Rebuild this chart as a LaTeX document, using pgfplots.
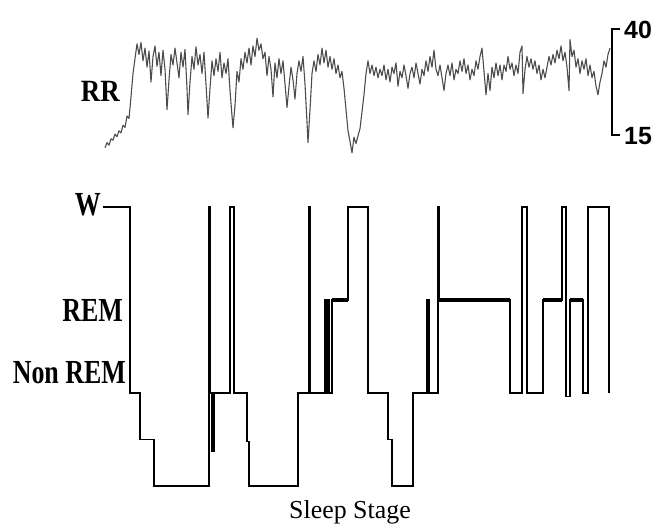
\documentclass[border=0pt]{standalone}
\usepackage{pgfplots}
\pgfplotsset{compat=1.18}
\usepackage{fontspec}
\setmainfont{Liberation Serif}
\newfontfamily\arial{Liberation Sans}

\begin{document}
\begin{tikzpicture}
\path[use as bounding box] (0bp,0bp) rectangle (661bp,-531bp);

% RR trace
\begin{axis}[at={(0bp,0bp)}, anchor=north west, scale only axis,
  width=661bp, height=180bp, xmin=0, xmax=661, ymin=4.39, ymax=46.84,
  hide axis, clip=false]
\addplot[black!70, line width=1.1pt, line join=round] coordinates {
(105,12.0) (107,13.2) (109,12.6) (111,14.1) (113,13.8) (115,15.2) (117,14.6) (119,16.0)
(121,15.5) (123,17.3) (125,16.8) (127,19.5) (129,18.9) (131,24.0) (133,29.5) (135,33.0)
(137,36.5) (139,34.0) (141,36.8) (143,32.5) (145,35.5) (147,31.0) (149,34.8) (151,27.5)
(153,33.5) (155,36.0) (157,31.2) (159,34.5) (161,29.0) (163,35.0) (165,30.5) (167,21.0)
(169,28.0) (171,34.0) (173,31.5) (175,35.5) (177,32.0) (179,28.5) (181,34.5) (183,31.0)
(185,35.2) (187,26.0) (188,19.8) (190,27.5) (192,33.5) (194,30.5) (196,35.8) (198,31.5)
(200,34.0) (202,29.5) (204,34.5) (206,27.0) (208,19.0) (210,26.0) (212,32.5) (214,29.0)
(216,33.0) (218,30.0) (220,34.5) (222,28.5) (224,32.0) (226,29.5) (228,33.0) (230,25.5)
(232,19.5) (233,16.7) (235,22.0) (237,30.0) (239,27.5) (241,33.0) (243,30.5) (245,34.5)
(247,32.0) (249,35.5) (251,31.5) (253,36.0) (255,33.5) (257,37.8) (259,35.0) (261,36.5)
(263,33.0) (265,34.5) (267,29.0) (269,33.5) (271,30.5) (273,24.0) (275,32.0) (277,28.5)
(279,33.0) (281,29.5) (283,32.5) (285,27.0) (287,21.5) (289,26.5) (291,31.0) (293,28.0)
(295,23.5) (297,29.5) (299,32.5) (301,30.0) (303,33.5) (305,27.0) (307,18.0) (308,13.2)
(310,21.0) (312,29.5) (314,32.5) (316,30.0) (318,34.0) (320,31.5) (322,35.5) (324,32.0)
(326,35.0) (328,31.0) (330,33.5) (332,30.5) (334,33.0) (336,29.5) (338,31.5) (340,28.5)
(342,30.0) (344,26.0) (346,21.0) (348,16.0) (350,13.5) (352,10.8) (354,14.5) (356,13.0)
(358,14.8) (360,16.5) (362,20.5) (364,24.5) (366,29.5) (368,32.5) (370,29.5) (372,31.5)
(374,29.0) (376,31.0) (378,28.5) (380,30.5) (382,29.0) (384,31.5) (386,28.0) (388,30.5)
(390,27.5) (392,31.0) (394,29.5) (396,32.0) (398,26.5) (400,30.0) (402,28.5) (404,31.5)
(406,29.0) (408,26.0) (410,29.5) (412,31.0) (414,28.5) (416,32.0) (418,29.5) (420,27.0)
(422,30.5) (424,29.0) (426,32.5) (428,30.0) (430,33.5) (432,31.0) (434,35.0) (436,30.5)
(438,29.0) (440,31.5) (442,28.5) (444,25.5) (446,29.5) (448,31.5) (450,29.0) (452,32.0)
(454,28.0) (456,30.5) (458,29.5) (460,32.5) (462,30.0) (464,33.0) (466,29.5) (468,31.5)
(470,28.0) (472,30.5) (474,29.0) (476,32.5) (478,30.5) (480,33.5) (482,35.5) (484,30.0)
(486,24.5) (488,29.5) (490,25.5) (492,31.0) (494,28.5) (496,32.0) (498,29.0) (500,31.5)
(502,28.0) (504,31.5) (506,30.0) (508,33.5) (510,30.5) (512,32.0) (514,29.0) (516,31.5)
(518,29.5) (520,34.5) (522,36.0) (523,24.8) (525,30.5) (527,33.5) (529,31.0) (531,33.0)
(533,30.5) (535,32.5) (537,29.5) (539,31.5) (541,28.0) (543,30.5) (545,28.5) (547,31.0)
(549,33.5) (551,31.5) (553,34.0) (555,32.0) (557,35.0) (559,33.0) (561,36.0) (563,32.5)
(565,34.5) (567,31.0) (569,25.5) (570,37.5) (572,33.5) (574,35.0) (576,31.0) (578,33.0)
(580,29.5) (582,32.5) (584,30.5) (586,33.0) (588,29.0) (590,31.5) (592,28.5) (594,30.0)
(596,26.5) (598,24.5) (600,27.5) (602,29.5) (604,32.5) (606,31.0) (608,34.0) (610,35.5)
};
% scale bracket
\draw[line width=1.5bp] (axis cs:620,40) -- (axis cs:612,40) -- (axis cs:612,15) -- (axis cs:620,15);
\node[anchor=west, font=\arial\bfseries\fontsize{25}{25}\selectfont, inner sep=0pt] at (axis cs:624,39.8) {40};
\node[anchor=west, font=\arial\bfseries\fontsize{25}{25}\selectfont, inner sep=0pt] at (axis cs:624,14.8) {15};
\node[anchor=east, font=\bfseries\fontsize{27}{27}\selectfont, inner sep=0pt] at (axis cs:120,25.4) {\scalebox{1}[1.15]{RR}};
\end{axis}

% hypnogram: W=4, REM=3, S1=2, S2=1.5, S3/4=1
\begin{axis}[at={(0bp,-180bp)}, anchor=north west, scale only axis,
  width=661bp, height=351bp, xmin=0, xmax=661, ymin=0.516, ymax=4.29,
  hide axis, clip=false]
\addplot[black, line width=1.4pt, line join=miter] coordinates {
(103,4) (130,4) (130,2) (140,2) (140,1.5) (154,1.5) (154,1) (209,1) (209,4) (210,4)
(210,2) (212,2) (212,1.37) (214,1.37) (214,2) (230,2) (230,4) (234,4) (234,2) (247,2)
(247,1.48) (249,1.48) (249,1) (298,1) (298,2) (309,2) (309,4) (310,4) (310,2) (325,2)
(325,3) (326,3) (326,2) (328,2) (328,3) (329,3) (329,2) (332,2) (332,3) (348,3)
(348,4) (368,4) (368,2) (388,2) (388,1.5) (392,1.5) (392,1) (413,1) (413,2) (427,2)
(427,3) (429,3) (429,2) (438,2) (438,4) (439,4) (439,3) (510,3) (510,2) (522,2)
(522,4) (527,4) (527,2) (543,2) (543,3) (562,3) (562,4) (566,4) (566,1.96) (570,1.96)
(570,3) (583,3) (583,2) (588,2) (588,4) (609,4) (609,2)
};
% heavier REM runs
\addplot[black, line width=3.2pt] coordinates {(332,3) (348,3)};
\addplot[black, line width=3.2pt] coordinates {(439,3) (510,3)};
\addplot[black, line width=3.2pt] coordinates {(543,3) (562,3)};
\addplot[black, line width=3.2pt] coordinates {(570,3) (583,3)};
\node[anchor=east, font=\bfseries\fontsize{26}{26}\selectfont, inner sep=0pt] at (axis cs:101,4.02) {\scalebox{1}[1.3]{W}};
\node[anchor=east, font=\bfseries\fontsize{26}{26}\selectfont, inner sep=0pt] at (axis cs:123,2.89) {\scalebox{1}[1.3]{REM}};
\node[anchor=east, font=\bfseries\fontsize{26}{26}\selectfont, inner sep=0pt] at (axis cs:126,2.215) {\scalebox{1}[1.3]{Non REM}};
\node[font=\fontsize{26}{26}\selectfont, inner sep=0pt] at (axis cs:350,0.72) {Sleep Stage};
\end{axis}
\end{tikzpicture}
\end{document}
